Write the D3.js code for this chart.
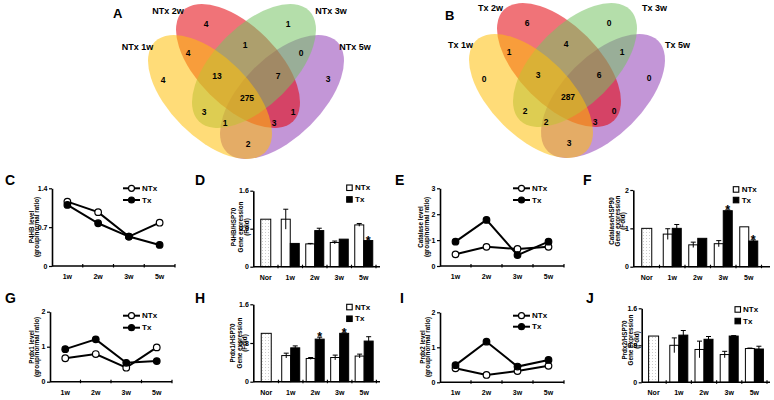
<!DOCTYPE html>
<html><head><meta charset="utf-8">
<script src="https://cdn.jsdelivr.net/npm/d3@7"></script>
<style>
body{margin:0;background:#fff}
svg{display:block;font-family:"Liberation Sans",Arial,sans-serif;font-weight:bold}
</style>
</head><body>
<svg id="c" width="774" height="400"></svg>
<script>
// ---------------- DATA ----------------
const vennSetsA = ["NTx 1w", "NTx 2w", "NTx 3w", "NTx 5w"];
const vennSetsB = ["Tx 1w", "Tx 2w", "Tx 3w", "Tx 5w"];
const vennRegions = ["2", "3", "1", "5", "12", "23", "35", "123", "235", "1235", "13", "25", "135", "125", "15"];
const vennCountsA = [4, 1, 4, 3, 4, 1, 0, 13, 7, 275, 3, 1, 1, 3, 2];
const vennCountsB = [6, 0, 0, 0, 1, 4, 1, 3, 6, 287, 2, 0, 2, 3, 3];

const weeks = ["1w", "2w", "3w", "5w"];
const barCats = ["Nor", "1w", "2w", "3w", "5w"];
const seriesNames = ["NTx", "Tx"];
const norValue = 1.0;

// line panels (group/normal ratio)
const p4hbNTx = [1.16, 0.97, 0.53, 0.78];
const p4hbTx = [1.10, 0.77, 0.53, 0.38];
const catalaseNTx = [0.45, 0.74, 0.66, 0.74];
const catalaseTx = [0.94, 1.78, 0.42, 0.94];
const prdx1NTx = [0.67, 0.79, 0.40, 0.98];
const prdx1Tx = [0.93, 1.21, 0.54, 0.59];
const prdx2NTx = [0.40, 0.21, 0.32, 0.47];
const prdx2Tx = [0.49, 1.16, 0.45, 0.64];

// bar panels (gene expression fold), per week 1w,2w,3w,5w
const p4hbGeneNTx = [1.00, 0.48, 0.51, 0.88];
const p4hbGeneNTxErr = [0.21, 0.01, 0.03, 0.03];
const p4hbGeneTx = [0.49, 0.76, 0.58, 0.55];
const p4hbGeneTxErr = [0.00, 0.05, 0.00, 0.00];
const p4hbGeneStars = [false, false, false, true];

const catGeneNTx = [0.85, 0.57, 0.60, 1.04];
const catGeneNTxErr = [0.14, 0.07, 0.08, 0.00];
const catGeneTx = [1.00, 0.74, 1.46, 0.67];
const catGeneTxErr = [0.10, 0.00, 0.02, 0.03];
const catGeneStars = [false, false, true, true];

const prdx1GeneNTx = [0.54, 0.48, 0.50, 0.53];
const prdx1GeneNTxErr = [0.05, 0.02, 0.05, 0.04];
const prdx1GeneTx = [0.70, 0.88, 1.00, 0.84];
const prdx1GeneTxErr = [0.04, 0.04, 0.01, 0.09];
const prdx1GeneStars = [false, true, true, false];

const prdx2GeneNTx = [0.80, 0.71, 0.60, 0.73];
const prdx2GeneNTxErr = [0.16, 0.18, 0.07, 0.01];
const prdx2GeneTx = [1.02, 0.93, 1.00, 0.72];
const prdx2GeneTxErr = [0.10, 0.06, 0.01, 0.06];
const prdx2GeneStars = [false, false, false, false];

// ---------------- DRAWING ----------------
const svg = d3.select("#c");
const defs = svg.append("defs");
const pat = defs.append("pattern").attr("id", "dots").attr("patternUnits", "userSpaceOnUse")
  .attr("width", 3).attr("height", 3);
pat.append("rect").attr("width", 3).attr("height", 3).attr("fill", "#fff");
pat.append("circle").attr("cx", 1.5).attr("cy", 1.5).attr("r", 0.45).attr("fill", "#999");

// Venn layout (ellipse offsets / rotations, region label offsets)
const ellipseLayout = [ // draw order: 5w, 2w, 3w, 1w
  {dx: 36, dy: 17, rot: -45, color: "#9240B6"},
  {dx: -8, dy: -14, rot: 45, color: "#E4000A"},
  {dx: 8, dy: -14, rot: -45, color: "#77C364"},
  {dx: -36, dy: 17, rot: 45, color: "#FFBF0A"}
];
const regionOffsets = {
  "2": [-40, -56], "3": [42, -56], "1": [-83, 0], "5": [82, -1],
  "12": [-58, -27], "23": [-1, -35], "35": [55, -27],
  "123": [-29, -4], "235": [32, -4], "1235": [1, 18],
  "13": [-42, 32], "25": [47, 32], "135": [-21, 43], "125": [28, 43], "15": [2, 64]
};

function venn(cx, cy, letter, letterPos, names, namePos, counts) {
  const g = svg.append("g");
  ellipseLayout.forEach(e => {
    g.append("ellipse")
      .attr("transform", `translate(${cx + e.dx},${cy + e.dy}) rotate(${e.rot})`)
      .attr("rx", 78).attr("ry", 40)
      .attr("fill", e.color).attr("fill-opacity", 0.55);
  });
  vennRegions.forEach((r, i) => {
    const o = regionOffsets[r];
    g.append("text").attr("x", cx + o[0]).attr("y", cy + o[1])
      .attr("text-anchor", "middle").attr("dominant-baseline", "central")
      .attr("font-size", 8.5).text(counts[i]);
  });
  names.forEach((n, i) => {
    g.append("text").attr("x", namePos[i][0]).attr("y", namePos[i][1])
      .attr("text-anchor", "middle").attr("dominant-baseline", "central")
      .attr("font-size", 9).text(n);
  });
  g.append("text").attr("x", letterPos[0]).attr("y", letterPos[1])
    .attr("font-size", 13).text(letter);
}

// name positions in order 1w, 2w, 3w, 5w
venn(246, 80, "A", [113, 17.5], vennSetsA,
  [[137.5, 47], [168, 11], [331, 11], [355, 47]], vennCountsA);
venn(567, 79, "B", [445, 20], vennSetsB,
  [[460.5, 45], [490.5, 8], [654.5, 8], [677.5, 45]], vennCountsB);

function yTitle(lines, xs, yc) {
  lines.forEach((t, i) => {
    svg.append("text")
      .attr("transform", `translate(${xs[i]},${yc}) rotate(-90)`)
      .attr("text-anchor", "middle").attr("dominant-baseline", "central")
      .attr("font-size", 6.3).text(t);
  });
}

function yAxis(y, xPos, ticks) {
  const ax = svg.append("g").attr("transform", `translate(${xPos},0)`)
    .call(d3.axisLeft(y).tickValues(ticks).tickSize(3).tickSizeOuter(0).tickFormat(d => String(d)));
  ax.attr("font-family", null);
  ax.select(".domain").attr("stroke-width", 1.6);
  ax.selectAll(".tick line").attr("stroke-width", 1.2);
  ax.selectAll(".tick text").attr("font-size", 7).attr("font-weight", "bold").attr("x", -4.5);
}

function xAxisBand(x, yPos, xStart, xEnd, cats) {
  svg.append("line").attr("x1", xStart).attr("x2", xEnd).attr("y1", yPos).attr("y2", yPos)
    .attr("stroke", "#000").attr("stroke-width", 1.6);
  cats.forEach(c => {
    const e = x(c) + x.bandwidth();
    svg.append("line").attr("x1", e).attr("x2", e).attr("y1", yPos - 2).attr("y2", yPos + 1.5)
      .attr("stroke", "#000").attr("stroke-width", 1.2);
    svg.append("text").attr("x", x(c) + x.bandwidth() / 2).attr("y", yPos + 10.5)
      .attr("text-anchor", "middle").attr("dominant-baseline", "central")
      .attr("font-size", 7).text(c);
  });
}

function linePanel(p) {
  svg.append("text").attr("x", p.lp[0]).attr("y", p.lp[1]).attr("font-size", 14).text(p.letter);
  const x = d3.scaleBand().domain(weeks).range(p.xr);
  const y = d3.scaleLinear().domain(p.dom).range(p.yr);
  yAxis(y, p.xr[0], p.ticks);
  xAxisBand(x, p.yr[0], p.xr[0], p.xr[1], weeks);
  yTitle(p.title, p.titleX, p.titleY);
  const line = d3.line().x((d, i) => x(weeks[i]) + x.bandwidth() / 2).y(d => y(d));
  [p.ntx, p.tx].forEach(vals => {
    svg.append("path").datum(vals).attr("d", line).attr("fill", "none")
      .attr("stroke", "#000").attr("stroke-width", 2);
  });
  [[p.ntx, "#fff"], [p.tx, "#000"]].forEach(([vals, fill]) => {
    svg.selectAll(null).data(vals).enter().append("circle")
      .attr("cx", (d, i) => x(weeks[i]) + x.bandwidth() / 2).attr("cy", d => y(d))
      .attr("r", 3.3).attr("fill", fill).attr("stroke", "#000").attr("stroke-width", 1.2);
  });
  // legend
  seriesNames.forEach((s, i) => {
    const ly = p.leg[1 + i];
    svg.append("line").attr("x1", p.leg[0]).attr("x2", p.leg[0] + 17).attr("y1", ly).attr("y2", ly)
      .attr("stroke", "#000").attr("stroke-width", 2);
    svg.append("circle").attr("cx", p.leg[0] + 8.5).attr("cy", ly).attr("r", 3)
      .attr("fill", i === 0 ? "#fff" : "#000").attr("stroke", "#000").attr("stroke-width", 1.2);
    svg.append("text").attr("x", p.leg[0] + 19).attr("y", ly).attr("dominant-baseline", "central")
      .attr("font-size", 8).text(s);
  });
}

function barPanel(p) {
  svg.append("text").attr("x", p.lp[0]).attr("y", p.lp[1]).attr("font-size", 14).text(p.letter);
  const x = d3.scaleBand().domain(barCats).range(p.xr);
  const y = d3.scaleLinear().domain(p.dom).range(p.yr);
  const bw = 9;
  yTitle(p.title, p.titleX, p.titleY);
  const g = svg.append("g");
  // Nor bar
  const cN = x("Nor") + x.bandwidth() / 2;
  g.append("rect").attr("x", cN - 5).attr("width", 10).attr("y", y(norValue))
    .attr("height", y(0) - y(norValue)).attr("fill", "url(#dots)").attr("stroke", "#000").attr("stroke-width", 1);
  const groups = [
    {vals: p.ntx, err: p.ntxErr, fill: "#fff", off: -bw},
    {vals: p.tx, err: p.txErr, fill: "#000", off: 0}
  ];
  groups.forEach(gr => {
    gr.vals.forEach((v, i) => {
      const c = x(weeks[i]) + x.bandwidth() / 2 + gr.off;
      const e = gr.err[i];
      g.append("rect").attr("x", c).attr("width", bw).attr("y", y(v)).attr("height", y(0) - y(v))
        .attr("fill", gr.fill).attr("stroke", "#000").attr("stroke-width", 1);
      if (e > 0) {
        g.append("line").attr("x1", c + bw / 2).attr("x2", c + bw / 2).attr("y1", y(v - e)).attr("y2", y(v + e))
          .attr("stroke", "#000").attr("stroke-width", 1);
        g.append("line").attr("x1", c + bw / 2 - 2.5).attr("x2", c + bw / 2 + 2.5).attr("y1", y(v + e)).attr("y2", y(v + e))
          .attr("stroke", "#000").attr("stroke-width", 1);
      }
    });
  });
  p.stars.forEach((s, i) => {
    if (!s) return;
    const c = x(weeks[i]) + x.bandwidth() / 2 + bw / 2;
    g.append("text").attr("x", c).attr("y", y(p.tx[i] + p.txErr[i]) + 4)
      .attr("text-anchor", "middle").attr("font-size", 12.5).text("*");
  });
  yAxis(y, p.ax, p.ticks);
  xAxisBand(x, p.yr[0], p.ax, p.xEnd, barCats);
  // legend
  seriesNames.forEach((s, i) => {
    const ly = p.leg[1 + i];
    svg.append("rect").attr("x", p.leg[0]).attr("y", ly).attr("width", 5.5).attr("height", 5.5)
      .attr("fill", i === 0 ? "#fff" : "#000").attr("stroke", "#000").attr("stroke-width", 1.1);
    svg.append("text").attr("x", p.leg[3]).attr("y", ly + 2.8).attr("dominant-baseline", "central")
      .attr("font-size", 8).text(s);
  });
}

linePanel({letter: "C", lp: [5, 185], xr: [52, 175], yr: [266, 188.3], dom: [0, 1.4], ticks: [0, 0.7, 1.4],
  title: ["P4HB level", "(group/normal ratio)"], titleX: [31, 36.5], titleY: 227, leg: [123, 188.3, 200],
  ntx: p4hbNTx, tx: p4hbTx});
linePanel({letter: "E", lp: [395, 185], xr: [440, 564], yr: [266, 188.3], dom: [0, 3], ticks: [0, 1, 2, 3],
  title: ["Catalase level", "(group/normal ratio)"], titleX: [420.7, 426.3], titleY: 227, leg: [513, 188.3, 200],
  ntx: catalaseNTx, tx: catalaseTx});
linePanel({letter: "G", lp: [5, 303], xr: [50, 172], yr: [381.7, 311.7], dom: [0, 2], ticks: [0, 1, 2],
  title: ["Prdx1 level", "(group/normal ratio)"], titleX: [31.5, 36.8], titleY: 347, leg: [123, 315.7, 327.7],
  ntx: prdx1NTx, tx: prdx1Tx});
linePanel({letter: "I", lp: [400, 303], xr: [440, 564], yr: [382.3, 312.3], dom: [0, 2], ticks: [0, 1, 2],
  title: ["Prdx2 level", "(group/normal ratio)"], titleX: [422, 427.3], titleY: 347, leg: [513, 315.7, 326.7],
  ntx: prdx2NTx, tx: prdx2Tx});

barPanel({letter: "D", lp: [195, 185], ax: 253.3, xr: [253.5, 376], xEnd: 380, yr: [266.7, 190.7], dom: [0, 1.6],
  ticks: [0, 0.8, 1.6], title: ["P4HB/HSP70", "Gene expression", "(Fold)"], titleX: [233.3, 240, 246], titleY: 227,
  leg: [346.7, 185, 196.7, 355], ntx: p4hbGeneNTx, ntxErr: p4hbGeneNTxErr, tx: p4hbGeneTx, txErr: p4hbGeneTxErr,
  stars: p4hbGeneStars});
barPanel({letter: "F", lp: [583, 185], ax: 633.3, xr: [634, 761.5], xEnd: 770, yr: [266.7, 190], dom: [0, 2],
  ticks: [0, 1, 2], title: ["Catalase/HSP90", "Gene expression", "(Fold)"], titleX: [611.7, 617.3, 622.7], titleY: 221,
  leg: [733.3, 186.7, 197.3, 741.7], ntx: catGeneNTx, ntxErr: catGeneNTxErr, tx: catGeneTx, txErr: catGeneTxErr,
  stars: catGeneStars});
barPanel({letter: "H", lp: [195, 303], ax: 253.3, xr: [254, 376.4], xEnd: 380, yr: [381.7, 304.3], dom: [0, 1.6],
  ticks: [0, 0.8, 1.6], title: ["Prdx1/HSP70", "Gene expression", "(Fold)"], titleX: [232.7, 239, 244.5], titleY: 343,
  leg: [346.7, 304.3, 316, 355], ntx: prdx1GeneNTx, ntxErr: prdx1GeneNTxErr, tx: prdx1GeneTx, txErr: prdx1GeneTxErr,
  stars: prdx1GeneStars});
barPanel({letter: "J", lp: [586, 303], ax: 641.7, xr: [641, 767], xEnd: 770, yr: [382.3, 308.3], dom: [0, 1.6],
  ticks: [0, 0.8, 1.6], title: ["Prdx2/HSP70", "Gene expression", "(Fold)"], titleX: [624, 630, 636], titleY: 340,
  leg: [735, 306.7, 318.3, 743], ntx: prdx2GeneNTx, ntxErr: prdx2GeneNTxErr, tx: prdx2GeneTx, txErr: prdx2GeneTxErr,
  stars: prdx2GeneStars});
</script>
</body></html>
